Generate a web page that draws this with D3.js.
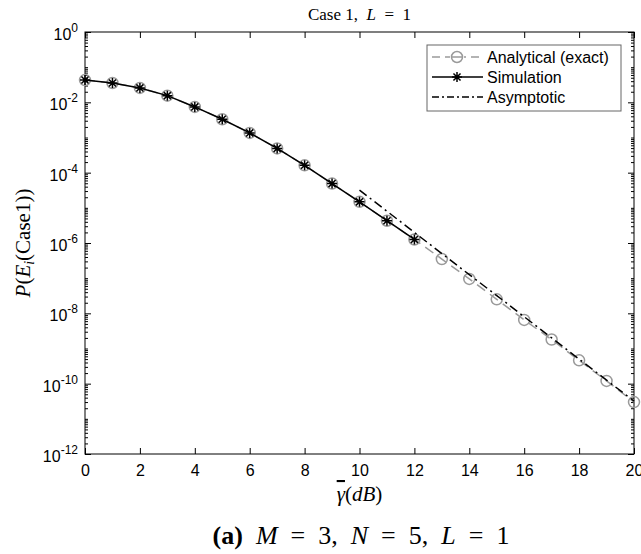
<!DOCTYPE html>
<html>
<head>
<meta charset="utf-8">
<script src="https://cdn.jsdelivr.net/npm/d3@7"></script>
<style>
  body { margin: 0; background: #fff; }
  svg { display: block; }
  .tick text { font-family: "Liberation Sans", Arial, sans-serif; }
</style>
</head>
<body>
<svg id="chart" width="641" height="554"></svg>
<script>
// SNR Werte (dB)
const snr = [0,1,2,3,4,5,6,7,8,9,10,11,12,13,14,15,16,17,18,19,20];
// Analytisch (exakt)
const analytical = [4.3e-2,3.55e-2,2.57e-2,1.55e-2,7.4e-3,3.3e-3,1.35e-3,4.9e-4,1.62e-4,4.9e-5,1.48e-5,4.3e-6,1.26e-6,3.5e-7,9.5e-8,2.5e-8,6.5e-9,1.8e-9,4.6e-10,1.2e-10,3.0e-11];
// Simulation nur bis 12 dB
const simSnr = [0,1,2,3,4,5,6,7,8,9,10,11,12];
const simulation = [4.3e-2,3.55e-2,2.57e-2,1.55e-2,7.4e-3,3.3e-3,1.35e-3,4.9e-4,1.62e-4,4.9e-5,1.48e-5,4.3e-6,1.26e-6];
// Asymptotisch ab 10 dB
const asySnr = [10,11,12,13,14,15,16,17,18,19,20];
const asymptotic = [3.2e-5,8.0e-6,2.0e-6,5.0e-7,1.26e-7,3.2e-8,8.0e-9,2.0e-9,5.0e-10,1.26e-10,3.2e-11];

const xTicks = [0,2,4,6,8,10,12,14,16,18,20];
const yExp = [0,-2,-4,-6,-8,-10,-12];
const legendLabels = ["Analytical (exact)", "Simulation", "Asymptotic"];

const svg = d3.select("#chart");
const mLeft = 85, mRight = 634, mTop = 32, mBottom = 454;

const x = d3.scaleLinear().domain([0, 20]).range([mLeft, mRight]);
const y = d3.scaleLog().domain([1e-12, 1]).range([mBottom, mTop]);

svg.append("rect").attr("width", 641).attr("height", 554).attr("fill", "#fff");

// Nebenteilstriche (log)
const minor = [];
for (let e = -12; e < 0; e++) {
    for (let k = 1; k <= 9; k++) {
        if (k === 1 && e % 2 === 0) continue;
        minor.push(k * Math.pow(10, e));
    }
}

function styleAxis(g) {
    g.select(".domain").remove();
    g.selectAll(".tick line").attr("stroke", "#000").attr("stroke-width", 1);
}

// x-Achse unten mit Beschriftung
svg.append("g")
    .attr("transform", `translate(0,${mBottom})`)
    .call(d3.axisBottom(x).tickValues(xTicks).tickSizeInner(-6).tickSizeOuter(0).tickPadding(11))
    .call(styleAxis)
    .selectAll("text")
    .attr("font-size", 16)
    .attr("fill", "#000");

// x-Achse oben, nur Striche
svg.append("g")
    .attr("transform", `translate(0,${mTop})`)
    .call(d3.axisTop(x).tickValues(xTicks).tickSizeInner(-6).tickSizeOuter(0).tickFormat(""))
    .call(styleAxis);

// y-Achsen links/rechts
[[d3.axisLeft, mLeft], [d3.axisRight, mRight]].forEach(([axisFn, pos]) => {
    svg.append("g")
        .attr("transform", `translate(${pos},0)`)
        .call(axisFn(y).tickValues(yExp.map(e => Math.pow(10, e))).tickSizeInner(-6).tickSizeOuter(0).tickFormat(""))
        .call(styleAxis);
    svg.append("g")
        .attr("transform", `translate(${pos},0)`)
        .call(axisFn(y).tickValues(minor).tickSizeInner(-3).tickSizeOuter(0).tickFormat(""))
        .call(styleAxis);
});

// y-Beschriftung 10^n
yExp.forEach(e => {
    const t = svg.append("text")
        .attr("x", 78)
        .attr("y", y(Math.pow(10, e)) + 8)
        .attr("text-anchor", "end")
        .attr("font-family", "Liberation Sans, Arial, sans-serif")
        .attr("font-size", 16)
        .attr("fill", "#000");
    t.append("tspan").text("10");
    t.append("tspan").attr("font-size", 12).attr("dy", -8).text(e === 0 ? "0" : "-" + Math.abs(e));
});

// Rahmen
svg.append("rect")
    .attr("x", mLeft).attr("y", mTop)
    .attr("width", mRight - mLeft).attr("height", mBottom - mTop)
    .attr("fill", "none").attr("stroke", "#000").attr("stroke-width", 1);

const line = d3.line().x(d => x(d[0])).y(d => y(d[1]));
const grey = "#9a9a9a";

// Analytisch
svg.append("path")
    .datum(snr.map((s, i) => [s, analytical[i]]))
    .attr("d", line)
    .attr("fill", "none").attr("stroke", grey).attr("stroke-width", 1.5)
    .attr("stroke-dasharray", "10,6");
svg.selectAll(".circ")
    .data(snr.map((s, i) => [s, analytical[i]]))
    .enter().append("circle")
    .attr("class", "circ")
    .attr("cx", d => x(d[0])).attr("cy", d => y(d[1]))
    .attr("r", 5.5)
    .attr("fill", "none").attr("stroke", grey).attr("stroke-width", 1.5);

// Asymptotisch
svg.append("path")
    .datum(asySnr.map((s, i) => [s, asymptotic[i]]))
    .attr("d", line)
    .attr("fill", "none").attr("stroke", "#000").attr("stroke-width", 1.5)
    .attr("stroke-dasharray", "9,4,2,4");

// Simulation
svg.append("path")
    .datum(simSnr.map((s, i) => [s, simulation[i]]))
    .attr("d", line)
    .attr("fill", "none").attr("stroke", "#000").attr("stroke-width", 1.5);

function starPath(cx, cy, r) {
    const d = r * Math.SQRT1_2;
    return `M${cx - r},${cy}L${cx + r},${cy}M${cx},${cy - r}L${cx},${cy + r}` +
        `M${cx - d},${cy - d}L${cx + d},${cy + d}M${cx - d},${cy + d}L${cx + d},${cy - d}`;
}
svg.selectAll(".star")
    .data(simSnr.map((s, i) => [s, simulation[i]]))
    .enter().append("path")
    .attr("class", "star")
    .attr("d", d => starPath(x(d[0]), y(d[1]), 5))
    .attr("fill", "none").attr("stroke", "#000").attr("stroke-width", 1.5);

// Legende
const lg = svg.append("g");
lg.append("rect")
    .attr("x", 427).attr("y", 45).attr("width", 194).attr("height", 66)
    .attr("fill", "#fff").attr("stroke", "#666").attr("stroke-width", 1);
const rowsY = [57, 77, 97];
const styles = [
    { color: grey, dash: "8,5", marker: "circle" },
    { color: "#000", dash: null, marker: "star" },
    { color: "#000", dash: "7,3,2,3", marker: null }
];
legendLabels.forEach((lab, i) => {
    const yy = rowsY[i];
    const st = styles[i];
    lg.append("line")
        .attr("x1", 432).attr("x2", 483).attr("y1", yy).attr("y2", yy)
        .attr("stroke", st.color).attr("stroke-width", 1.5)
        .attr("stroke-dasharray", st.dash);
    if (st.marker === "circle") {
        lg.append("rect").attr("x", 450).attr("y", yy - 7).attr("width", 14).attr("height", 14).attr("fill", "#fff");
        lg.append("circle").attr("cx", 457).attr("cy", yy).attr("r", 5.5)
            .attr("fill", "none").attr("stroke", grey).attr("stroke-width", 1.5);
        lg.append("line").attr("x1", 451.5).attr("x2", 462.5).attr("y1", yy).attr("y2", yy)
            .attr("stroke", grey).attr("stroke-width", 1.5);
    } else if (st.marker === "star") {
        lg.append("path").attr("d", starPath(457, yy, 5))
            .attr("fill", "none").attr("stroke", "#000").attr("stroke-width", 1.5);
    }
    lg.append("text")
        .attr("x", 487).attr("y", yy + 6)
        .attr("font-family", "Liberation Sans, Arial, sans-serif")
        .attr("font-size", 16)
        .attr("fill", "#000")
        .text(lab);
});

// Titel
const serif = "Liberation Serif, Times New Roman, serif";
const eq = "\u2002=\u2002";
const title = svg.append("text")
    .attr("x", (mLeft + mRight) / 2).attr("y", 20)
    .attr("text-anchor", "middle")
    .attr("font-family", serif).attr("font-size", 17).attr("fill", "#000");
title.append("tspan").text("Case 1,\u2002");
title.append("tspan").attr("font-style", "italic").text("L");
title.append("tspan").text(eq + "1");

// x-Label
const xl = svg.append("text")
    .attr("x", (mLeft + mRight) / 2).attr("y", 501)
    .attr("text-anchor", "middle")
    .attr("font-family", serif).attr("font-size", 21).attr("fill", "#000");
xl.append("tspan").attr("font-style", "italic").style("text-decoration", "overline").text("γ");
xl.append("tspan").text("(");
xl.append("tspan").attr("font-style", "italic").text("dB");
xl.append("tspan").text(")");

// y-Label
const yl = svg.append("text")
    .attr("transform", `translate(30,${(mTop + mBottom) / 2}) rotate(-90)`)
    .attr("text-anchor", "middle")
    .attr("font-family", serif).attr("font-size", 21).attr("fill", "#000");
yl.append("tspan").attr("font-style", "italic").text("P");
yl.append("tspan").text("(");
yl.append("tspan").attr("font-style", "italic").text("E");
yl.append("tspan").attr("font-style", "italic").attr("font-size", 14).attr("dy", 4).text("i");
yl.append("tspan").attr("dy", -4).text("(Case1))");

// Bildunterschrift
const cap = svg.append("text")
    .attr("x", 361).attr("y", 544)
    .attr("text-anchor", "middle")
    .attr("font-family", serif).attr("font-size", 26).attr("fill", "#000");
cap.append("tspan").attr("font-weight", "bold").text("(a)");
cap.append("tspan").text("\u2002");
cap.append("tspan").attr("font-style", "italic").text("M");
cap.append("tspan").text(eq + "3,\u2002");
cap.append("tspan").attr("font-style", "italic").text("N");
cap.append("tspan").text(eq + "5,\u2002");
cap.append("tspan").attr("font-style", "italic").text("L");
cap.append("tspan").text(eq + "1");
</script>
</body>
</html>
